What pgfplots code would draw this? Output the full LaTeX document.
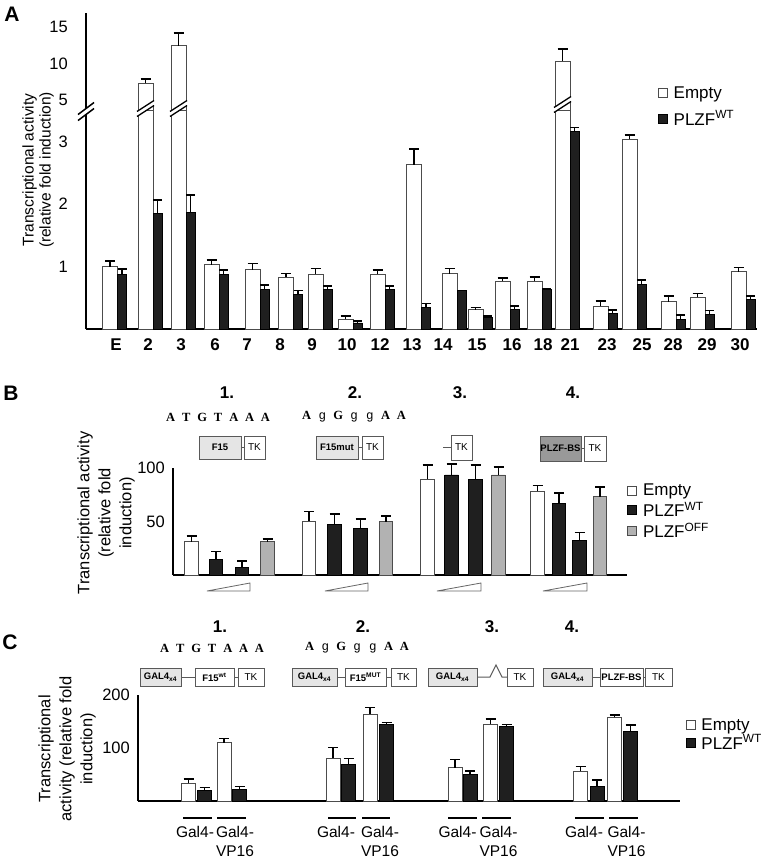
\documentclass[border=0pt]{standalone}
\usepackage{pgfplots}
\usepackage{pgfplotstable}
\pgfplotsset{compat=1.18}
\usepackage{fontspec}
\setmainfont{Liberation Sans}
\newfontfamily\seqfont{Liberation Serif}
\newfontfamily\gfont{Liberation Mono}

\pgfplotstableread{
x w we k ke
117.5 1.00 0.09 0.87 0.09
153 7.3 0.55 1.85 0.22
186 12.4 1.8 1.87 0.28
219 1.03 0.08 0.88 0.07
260 0.95 0.10 0.64 0.07
293.5 0.83 0.06 0.56 0.06
323 0.88 0.09 0.63 0.06
353 0.16 0.05 0.10 0.03
385 0.88 0.07 0.64 0.05
421.5 2.63 0.25 0.35 0.06
457 0.89 0.08 0.62 0.0
483 0.31 0.04 0.19 0.02
510 0.77 0.05 0.31 0.06
542 0.77 0.07 0.64 0.0
570 10.34 1.6 3.16 0.07
608 0.37 0.08 0.25 0.06
637 3.04 0.07 0.72 0.07
676 0.44 0.09 0.16 0.07
705 0.51 0.06 0.24 0.06
746 0.92 0.07 0.47 0.06
}\dataA

\pgfplotstableread{
x y e
191.5 31.1 5.6
309 50.5 8.7
427.5 89.7 13.1
537.5 78.5 5.0
}\dataBw
\pgfplotstableread{
x y e
216 14.7 7.1
242 7.2 5.9
334.5 47.4 9.6
360.5 43.6 8.5
451.5 93.5 10.0
475.5 89.4 13.4
559 67.0 9.4
579.5 32.1 7.8
}\dataBk
\pgfplotstableread{
x y e
267.5 31.1 2.5
386 49.8 5.6
498.5 93.5 7.2
600 73.2 9.3
}\dataBg

\pgfplotstableread{
x y e
188.5 33.4 8.1
224 110 8.3
333 80.5 20.1
370 164 12.7
455 62.9 15.7
490.5 145.3 9.4
580.5 56.6 8.2
614.5 157.9 4.4
}\dataCw
\pgfplotstableread{
x y e
204.5 19.4 6.4
239.5 22.0 5.0
348.5 69.2 11.3
386.5 144.7 3.8
470 50.3 6.3
506.5 140.3 4.4
597 27.0 12.6
630.5 132.0 11.4
}\dataCk

\pgfplotsset{
  panel/.style={scale only axis, anchor=south west,
    axis x line=bottom, axis y line=left,
    axis line style={line width=2.5pt,-}, x axis line style={-}, y axis line style={-},
    major tick length=0pt, xtick=\empty,
    /pgf/number format/assume math mode=true,
    yticklabel style={font=\fontsize{16.5}{16.5}\selectfont, anchor=east, inner sep=0pt},
    legend cell align=left,
  },
  sq/.style={legend image code/.code={\draw[##1,line width=0.8pt] (0pt,-4.5pt) rectangle (9pt,4.5pt);}},
  eb/.style={error bars/.cd, y dir=plus, y explicit,
    error bar style={line width=1.6pt,black,solid},
    error mark options={line width=1.6pt,black,mark size=#1,rotate=90}},
  wbar/.style={ybar, bar shift=0pt, fill=white, draw=black!70, line width=0.8pt, sq},
  kbar/.style={ybar, bar shift=0pt, fill=black!88, draw=black, line width=0.8pt, sq},
  gbar/.style={ybar, bar shift=0pt, fill=black!30, draw=black!70, line width=0.8pt, sq},
  lgd/.style={legend style={draw=none, fill=none, inner sep=0pt,
    font=\fontsize{17}{17}\selectfont, row sep=#1,
    /tikz/every odd column/.append style={column sep=4pt}}},
}
\newcommand\Lt[1]{\makebox[15.8pt]{\seqfont\bfseries #1}}
\newcommand\Lg{\makebox[15.8pt]{\gfont g}}
\tikzset{
  gbox/.style={draw=black!65, line width=1pt, fill=black!10},
  dbox/.style={draw=black!65, line width=1pt, fill=black!40},
  wbox/.style={draw=black!65, line width=1pt, fill=white},
  conn/.style={draw=black!65, line width=1pt},
  boxt/.style={font=\bfseries\fontsize{9.5}{9.5}\selectfont, inner sep=0pt},
  tkt/.style={font=\fontsize{10}{10}\selectfont, inner sep=0pt},
  num/.style={font=\bfseries\fontsize{17}{17}\selectfont},
  seq/.style={font=\fontsize{12.5}{12.5}\selectfont, inner sep=0pt},
  wedge/.style={draw=black!60, line width=0.8pt, fill=white},
  galt/.style={font=\fontsize{15.5}{19.5}\selectfont, align=center, anchor=north, inner sep=0pt},
}

\begin{document}
\begin{tikzpicture}
\useasboundingbox (0pt,0pt) rectangle (761pt,-862pt);

% ---------------- Panel A (lower part) ----------------
\begin{axis}[panel, at={(86pt,-329.2pt)}, width=671pt, height=218.7pt,
  xmin=86, xmax=757, ymin=0, ymax=3.5,
  ytick={1,2,3}, yticklabels={1,2,3},
  yticklabel style={xshift=-18pt},
  xtick={116,148,181,215,247,280,312,347,380,412,443,477,512,543,570,607,642,673,707,740},
  xticklabels={E,2,3,6,7,8,9,10,12,13,14,15,16,18,21,23,25,28,29,30},
  xticklabel style={font=\bfseries\fontsize{17}{17}\selectfont, inner sep=0pt, anchor=north, yshift=-9pt},
  lgd=7pt, legend style={at={(rel axis cs:0.852,1.12)}, anchor=north west},
  clip=true]
\addplot[wbar, bar width=15pt, eb=5pt] table[x expr=\thisrow{x}-7.5,y=w,y error=we]{\dataA};
\addplot[kbar, bar width=9pt, eb=4.5pt] table[x expr=\thisrow{x}+4.5,y=k,y error=ke]{\dataA};
\legend{Empty, PLZF\textsuperscript{WT}}
\end{axis}

% ---------------- Panel A (upper part) ----------------
\begin{axis}[panel, at={(86pt,-110.5pt)}, width=671pt, height=97.5pt,
  axis x line=none,
  xmin=86, xmax=757, ymin=3.56, ymax=16.9,
  restrict y to domain=3.6:100,
  ytick={5,10,15}, yticklabels={5,10,15},
  yticklabel style={xshift=-18pt},
  clip=true]
\addplot[wbar, bar width=15pt, eb=5pt] table[x expr=\thisrow{x}-7.5,y=w,y error=we]{\dataA};
\end{axis}

% ---------------- Panel B ----------------
\begin{axis}[panel, at={(173pt,-575pt)}, width=454pt, height=107pt,
  xmin=173, xmax=627, ymin=0, ymax=100,
  ytick={50,100}, yticklabels={50,100},
  yticklabel style={xshift=-8pt},
  lgd=1pt, legend style={at={(rel axis cs:1.0,0.87)}, anchor=north west},
  clip=false]
\addplot[wbar, bar width=13.5pt, eb=5pt] table[x=x,y=y,y error=e]{\dataBw};
\addplot[kbar, bar width=13.5pt, eb=5pt] table[x=x,y=y,y error=e]{\dataBk};
\addplot[gbar, bar width=13.5pt, eb=5pt] table[x=x,y=y,y error=e]{\dataBg};
\legend{Empty, PLZF\textsuperscript{WT}, PLZF\textsuperscript{OFF}}
\end{axis}

% ---------------- Panel C ----------------
\begin{axis}[panel, at={(138pt,-801pt)}, width=542pt, height=106pt,
  xmin=138, xmax=680, ymin=0, ymax=200,
  ytick={100,200}, yticklabels={100,200},
  yticklabel style={xshift=-8pt},
  lgd=-1pt, legend style={at={(rel axis cs:1.01,0.8)}, anchor=north west},
  clip=false]
\addplot[wbar, bar width=14pt, eb=5pt] table[x=x,y=y,y error=e]{\dataCw};
\addplot[kbar, bar width=14pt, eb=5pt] table[x=x,y=y,y error=e]{\dataCk};
\legend{Empty, PLZF\textsuperscript{WT}}
\end{axis}

% ---------------- annotations ----------------
\begin{scope}[x=1pt,y=-1pt]
% panel letters
\node[font=\bfseries\fontsize{21}{21}\selectfont] at (12,14) {A};
\node[font=\bfseries\fontsize{21}{21}\selectfont] at (11,393) {B};
\node[font=\bfseries\fontsize{21}{21}\selectfont] at (10,642) {C};

% y labels
\node[rotate=90, align=center, font=\fontsize{15.5}{17}\selectfont] at (38,170)
  {Transcriptional activity\\(relative fold induction)};
\node[rotate=90, align=center, font=\fontsize{16.5}{21}\selectfont] at (106,513)
  {Transcriptional activity\\(relative fold\\induction)};
\node[rotate=90, align=center, font=\fontsize{16.5}{21}\selectfont] at (67,749)
  {Transcriptional\\activity (relative fold\\induction)};

% axis break (panel A)
\fill[white] (78,120.5)--(94,108.5)--(94,102.5)--(78,114.5)--cycle;
\draw[line width=1.5pt] (78,120.5)--(94,108.5) (78,114.5)--(94,102.5);
% bar breaks
\foreach \l/\r/\c in {138/153/110, 171/186/110, 555/570/106}{
  \fill[white] (\l-1,\c+6.5)--(\r+1,\c-4.5)--(\r+1,\c-9.5)--(\l-1,\c+1.5)--cycle;
  \draw[line width=1.3pt] (\l-1,\c+6.5)--(\r+1,\c-4.5) (\l-1,\c+1.5)--(\r+1,\c-9.5);
}

% ---- Panel B diagrams ----
\node[num] at (227,393) {1.};
\node[num] at (355,393) {2.};
\node[num] at (460,393) {3.};
\node[num] at (573,393) {4.};
\node[seq] at (218,417) {\Lt{A}\Lt{T}\Lt{G}\Lt{T}\Lt{A}\Lt{A}\Lt{A}};
\node[seq] at (354,417) {\Lt{A}\Lg\Lt{G}\Lg\Lg\Lt{A}\Lt{A}};
% group 1
\draw[gbox] (199,436) rectangle (241,459); \node[boxt] at (220,447.5) {F15};
\draw[conn] (241,447.5)--(244,447.5);
\draw[wbox] (244,436) rectangle (265,459); \node[tkt] at (254.5,447.5) {TK};
% group 2
\draw[gbox] (316,436) rectangle (358,459); \node[boxt] at (337,447.5) {F15mut};
\draw[conn] (358,447.5)--(362,447.5);
\draw[wbox] (362,436) rectangle (383,459); \node[tkt] at (372.5,447.5) {TK};
% group 3
\draw[conn] (443,447.5)--(451,447.5);
\draw[wbox] (451,435) rectangle (472,460); \node[tkt] at (461.5,447.5) {TK};
% group 4
\draw[dbox] (540,436) rectangle (581,461); \node[boxt] at (560.5,448.5) {PLZF-BS};
\draw[conn] (581,448.5)--(584,448.5);
\draw[wbox] (584,436) rectangle (606,461); \node[tkt] at (595,448.5) {TK};
% wedges
\foreach \a/\b in {207/250, 325/368, 437/481, 543/587}{
  \draw[wedge] (\a,591)--(\b,583)--(\b,591)--cycle;
}

% ---- Panel C diagrams ----
\node[num] at (220,627) {1.};
\node[num] at (363,627) {2.};
\node[num] at (492,627) {3.};
\node[num] at (572,627) {4.};
\node[seq] at (212,648) {\Lt{A}\Lt{T}\Lt{G}\Lt{T}\Lt{A}\Lt{A}\Lt{A}};
\node[seq] at (357,648) {\Lt{A}\Lg\Lt{G}\Lg\Lg\Lt{A}\Lt{A}};
% group 1
\draw[gbox] (140,668) rectangle (181,686); \node[boxt] at (160.5,677) {GAL4\textsubscript{x4}};
\draw[conn] (181,677)--(195,677);
\draw[wbox] (195,668) rectangle (234,686); \node[boxt] at (214.5,677) {F15\textsuperscript{wt}};
\draw[conn] (234,677)--(238,677);
\draw[wbox] (238,668) rectangle (264,686); \node[tkt] at (251,677) {TK};
% group 2
\draw[gbox] (292,668) rectangle (337,686); \node[boxt] at (314.5,677) {GAL4\textsubscript{x4}};
\draw[conn] (337,677)--(345,677);
\draw[wbox] (345,668) rectangle (386,686); \node[boxt] at (365.5,677) {F15\textsuperscript{MUT}};
\draw[conn] (386,677)--(391,677);
\draw[wbox] (391,668) rectangle (416,686); \node[tkt] at (403.5,677) {TK};
% group 3
\draw[gbox] (428,668) rectangle (477,686); \node[boxt] at (452.5,677) {GAL4\textsubscript{x4}};
\draw[conn] (477,677)--(490,677)--(496,665)--(502,677)--(507,677);
\draw[wbox] (507,668) rectangle (533,686); \node[tkt] at (520,677) {TK};
% group 4
\draw[gbox] (543,668) rectangle (592,686); \node[boxt] at (567.5,677) {GAL4\textsubscript{x4}};
\draw[conn] (592,677)--(600,677);
\draw[wbox] (600,668) rectangle (643,686); \node[boxt] at (621.5,677) {PLZF-BS};
\draw[conn] (643,677)--(645,677);
\draw[wbox] (645,668) rectangle (672,686); \node[tkt] at (658.5,677) {TK};
% underlines and labels
\foreach \a/\b in {183/212, 217/246, 328/356, 362/390, 448/477, 482/511, 575/604, 609/638}{
  \draw[line width=2.5pt] (\a,818)--(\b,818);
}
\foreach \m in {195, 336, 457.5, 584}{ \node[galt] at (\m,826) {Gal4-}; }
\foreach \m in {235, 380, 498.5, 626.5}{ \node[galt] at (\m,826) {Gal4-\\VP16}; }
\end{scope}
\end{tikzpicture}
\end{document}
